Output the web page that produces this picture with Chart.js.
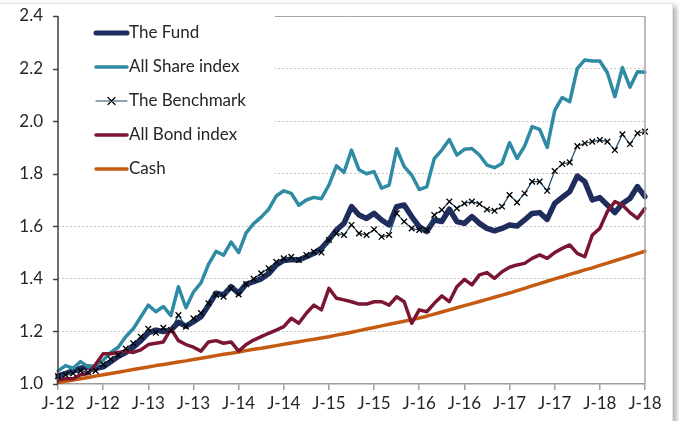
<!DOCTYPE html>
<html>
<head>
<meta charset="utf-8">
<script src="https://cdn.jsdelivr.net/npm/chart.js@4.4.1/dist/chart.umd.min.js"></script>
<style>
    html, body { margin: 0; padding: 0; background: #fff; overflow: hidden; }
    #frame {
        position: absolute; left: -10px; top: 3px; width: 681px; height: 440px;
        border: 1px solid #e6e6e6; box-shadow: 3px 3px 6px rgba(0,0,0,0.35); background: #fff;
    }
    #wrap { position: absolute; left: 0; top: 0; width: 679px; height: 421px; }
</style>
</head>
<body>
<div id="frame"></div>
<div id="wrap"><canvas id="perfChart" width="679" height="421"></canvas></div>
<script>
// Monthly, Jan 2012 - Jul 2018 (Excel "mmmmm-yy" style labels)
const months = [
    'J-12','F-12','M-12','A-12','M-12','J-12','J-12','A-12','S-12','O-12','N-12','D-12',
    'J-13','F-13','M-13','A-13','M-13','J-13','J-13','A-13','S-13','O-13','N-13','D-13',
    'J-14','F-14','M-14','A-14','M-14','J-14','J-14','A-14','S-14','O-14','N-14','D-14',
    'J-15','F-15','M-15','A-15','M-15','J-15','J-15','A-15','S-15','O-15','N-15','D-15',
    'J-16','F-16','M-16','A-16','M-16','J-16','J-16','A-16','S-16','O-16','N-16','D-16',
    'J-17','F-17','M-17','A-17','M-17','J-17','J-17','A-17','S-17','O-17','N-17','D-17',
    'J-18','F-18','M-18','A-18','M-18','J-18','J-18'
];

const yTicks = [1.0, 1.2, 1.4, 1.6, 1.8, 2.0, 2.2, 2.4];

const fund = [
    1.03, 1.04, 1.05, 1.06, 1.065, 1.06, 1.065, 1.085, 1.105, 1.12, 1.14, 1.165,
    1.195, 1.205, 1.20, 1.205, 1.235, 1.22, 1.237, 1.256, 1.30, 1.345, 1.339, 1.37,
    1.345, 1.38, 1.389, 1.40, 1.42, 1.453, 1.47, 1.474, 1.472, 1.484, 1.497, 1.516,
    1.548, 1.586, 1.611, 1.675, 1.643, 1.63, 1.649, 1.624, 1.605, 1.675, 1.681, 1.637,
    1.599, 1.58, 1.624, 1.618, 1.665, 1.618, 1.611, 1.637, 1.611, 1.592, 1.583, 1.592,
    1.605, 1.601, 1.624, 1.649, 1.652, 1.626, 1.687, 1.71, 1.732, 1.791, 1.77, 1.70,
    1.709, 1.681, 1.652, 1.687, 1.706, 1.751, 1.713
];

const allShare = [
    1.05, 1.07, 1.06, 1.085, 1.065, 1.07, 1.09, 1.12, 1.14, 1.18, 1.21, 1.255,
    1.30, 1.275, 1.295, 1.26, 1.37, 1.29, 1.35, 1.385, 1.455, 1.505, 1.49, 1.54,
    1.50, 1.575, 1.61, 1.635, 1.665, 1.715, 1.735, 1.725, 1.68, 1.70, 1.71, 1.705,
    1.757, 1.83, 1.805, 1.89, 1.815, 1.80, 1.808, 1.745, 1.757, 1.895, 1.827, 1.795,
    1.74, 1.75, 1.858, 1.89, 1.93, 1.871, 1.893, 1.896, 1.871, 1.833, 1.823, 1.839,
    1.918, 1.858, 1.905, 1.979, 1.969, 1.90, 2.04, 2.09, 2.074, 2.20, 2.233, 2.229,
    2.229, 2.184, 2.093, 2.204, 2.129, 2.188, 2.186
];

const benchmark = [
    1.03, 1.035, 1.04, 1.05, 1.045, 1.05, 1.075, 1.095, 1.11, 1.135, 1.155, 1.18,
    1.21, 1.195, 1.214, 1.205, 1.262, 1.218, 1.25, 1.27, 1.307, 1.339, 1.332, 1.364,
    1.341, 1.38, 1.40, 1.421, 1.44, 1.465, 1.478, 1.484, 1.472, 1.491, 1.503, 1.50,
    1.548, 1.573, 1.567, 1.605, 1.573, 1.567, 1.588, 1.56, 1.567, 1.649, 1.618, 1.592,
    1.586, 1.586, 1.643, 1.662, 1.694, 1.668, 1.687, 1.694, 1.685, 1.664, 1.659, 1.675,
    1.719, 1.691, 1.725, 1.77, 1.77, 1.735, 1.81, 1.837, 1.843, 1.905, 1.916, 1.922,
    1.928, 1.922, 1.89, 1.95, 1.913, 1.954, 1.96
];

const allBond = [
    1.015, 1.02, 1.02, 1.035, 1.04, 1.075, 1.115, 1.115, 1.12, 1.125, 1.12, 1.13,
    1.15, 1.155, 1.16, 1.21, 1.165, 1.15, 1.14, 1.125, 1.16, 1.165, 1.155, 1.16,
    1.125, 1.15, 1.167, 1.18, 1.193, 1.205, 1.218, 1.25, 1.231, 1.269, 1.30, 1.282,
    1.364, 1.326, 1.32, 1.313, 1.304, 1.304, 1.313, 1.313, 1.30, 1.332, 1.313, 1.231,
    1.282, 1.275, 1.307, 1.335, 1.313, 1.37, 1.398, 1.377, 1.415, 1.424, 1.402, 1.427,
    1.444, 1.453, 1.459, 1.478, 1.491, 1.478, 1.50, 1.516, 1.529, 1.497, 1.484, 1.567,
    1.592, 1.656, 1.694, 1.681, 1.652, 1.63, 1.668
];

const cash = [
    1.005, 1.010, 1.015, 1.020, 1.025, 1.030, 1.035, 1.040, 1.045, 1.050, 1.055, 1.060,
    1.065, 1.070, 1.074, 1.079, 1.084, 1.088, 1.093, 1.098, 1.103, 1.108, 1.113, 1.117,
    1.122, 1.127, 1.132, 1.136, 1.141, 1.146, 1.151, 1.156, 1.161, 1.166, 1.170, 1.175,
    1.180, 1.186, 1.191, 1.197, 1.203, 1.209, 1.215, 1.221, 1.227, 1.233, 1.239, 1.245,
    1.251, 1.258, 1.266, 1.274, 1.282, 1.290, 1.298, 1.306, 1.314, 1.322, 1.330, 1.338,
    1.346, 1.355, 1.364, 1.373, 1.382, 1.391, 1.400, 1.408, 1.417, 1.425, 1.434, 1.442,
    1.451, 1.460, 1.469, 1.478, 1.487, 1.496, 1.505
];

const COLORS = {
    fund: '#1f2d5c',
    share: '#2e8ba3',
    bench: '#1d4460',
    bond: '#7a1532',
    cash: '#c55a11',
    text: '#262626'
};

Chart.defaults.font.family = 'Lato, "Open Sans", sans-serif';
Chart.defaults.color = COLORS.text;

// Legend box (top-left inside the plot) plus axis lines drawn by hand
const legendItems = [
    { label: 'The Fund', color: COLORS.fund, width: 5 },
    { label: 'All Share index', color: COLORS.share, width: 3.5 },
    { label: 'The Benchmark', color: COLORS.bench, width: 1.2, marker: true },
    { label: 'All Bond index', color: COLORS.bond, width: 3.5 },
    { label: 'Cash', color: COLORS.cash, width: 3.5 }
];

const framePlugin = {
    id: 'frame',
    beforeDatasetsDraw(chart) {
        const { ctx, chartArea: ca } = chart;
        ctx.save();
        // top border line
        ctx.strokeStyle = '#a6a6a6';
        ctx.lineWidth = 1;
        ctx.beginPath();
        ctx.moveTo(ca.left, ca.top + 0.5);
        ctx.lineTo(ca.right, ca.top + 0.5);
        ctx.stroke();
        // legend background
        ctx.fillStyle = '#fff';
        ctx.fillRect(ca.left + 1, ca.top - 2, 216, 174);
        // legend entries
        ctx.font = '17px Lato, sans-serif';
        ctx.textBaseline = 'middle';
        ctx.lineCap = 'round';
        legendItems.forEach((item, i) => {
            const y = 33 + i * 34;
            ctx.strokeStyle = item.color;
            ctx.lineWidth = item.width;
            ctx.beginPath();
            ctx.moveTo(96, y);
            ctx.lineTo(127, y);
            ctx.stroke();
            if (item.marker) {
                ctx.strokeStyle = '#000';
                ctx.lineWidth = 1.2;
                ctx.beginPath();
                ctx.moveTo(108, y - 3.5); ctx.lineTo(115, y + 3.5);
                ctx.moveTo(115, y - 3.5); ctx.lineTo(108, y + 3.5);
                ctx.stroke();
            }
            ctx.fillStyle = COLORS.text;
            ctx.fillText(item.label, 129, y);
        });
        ctx.restore();
    },
    afterDraw(chart) {
        const { ctx, chartArea: ca, scales } = chart;
        ctx.save();
        // right border
        ctx.strokeStyle = '#a6a6a6';
        ctx.lineWidth = 1.5;
        ctx.beginPath();
        ctx.moveTo(ca.right, ca.top);
        ctx.lineTo(ca.right, ca.bottom);
        ctx.stroke();
        // left axis with tick marks
        ctx.strokeStyle = '#404040';
        ctx.lineWidth = 1.5;
        ctx.beginPath();
        ctx.moveTo(ca.left, ca.top);
        ctx.lineTo(ca.left, ca.bottom);
        yTicks.forEach(v => {
            const py = Math.round(scales.y.getPixelForValue(v)) + 0.5;
            ctx.moveTo(ca.left - 5, py);
            ctx.lineTo(ca.left, py);
        });
        ctx.stroke();
        ctx.restore();
    }
};

new Chart(document.getElementById('perfChart'), {
    type: 'line',
    data: {
        labels: months,
        datasets: [{
            label: 'The Benchmark',
            data: benchmark,
            borderColor: COLORS.bench,
            borderWidth: 1.2,
            pointStyle: 'crossRot',
            pointRadius: 4,
            pointBorderColor: '#000',
            pointBorderWidth: 1.3,
            order: 0
        }, {
            label: 'All Bond index',
            data: allBond,
            borderColor: COLORS.bond,
            borderWidth: 3.5,
            pointRadius: 0,
            order: 1
        }, {
            label: 'All Share index',
            data: allShare,
            borderColor: COLORS.share,
            borderWidth: 3.5,
            pointRadius: 0,
            order: 2
        }, {
            label: 'The Fund',
            data: fund,
            borderColor: COLORS.fund,
            borderWidth: 5.5,
            pointRadius: 0,
            order: 3
        }, {
            label: 'Cash',
            data: cash,
            borderColor: COLORS.cash,
            borderWidth: 3.5,
            pointRadius: 0,
            order: 4
        }]
    },
    options: {
        responsive: false,
        animation: false,
        layout: { padding: { top: 16, right: 34, bottom: 0, left: 0 } },
        elements: {
            line: { tension: 0, borderJoinStyle: 'round', borderCapStyle: 'round', fill: false }
        },
        plugins: {
            legend: { display: false },
            tooltip: { enabled: false }
        },
        scales: {
            x: {
                offset: false,
                afterFit: scale => { scale.height = 37; },
                grid: {
                    drawOnChartArea: false,
                    drawTicks: true,
                    tickLength: 6,
                    color: '#9e9e9e',
                    lineWidth: 1.5
                },
                border: { display: true, color: '#9e9e9e', width: 1.5 },
                ticks: {
                    autoSkip: false,
                    maxRotation: 0,
                    padding: 3,
                    font: { size: 17 },
                    color: COLORS.text,
                    callback: function (value, index) {
                        return index % 6 === 0 ? this.getLabelForValue(value) : null;
                    }
                }
            },
            y: {
                min: 1.0,
                max: 2.4,
                afterFit: scale => { scale.width = 58; },
                afterBuildTicks: scale => { scale.ticks = yTicks.map(v => ({ value: v })); },
                grid: {
                    drawTicks: true,
                    tickLength: 15,
                    tickColor: 'rgba(0,0,0,0)',
                    color: ctx => (ctx.tick && (ctx.tick.value <= 1.0 || ctx.tick.value >= 2.4)) ? 'rgba(0,0,0,0)' : '#c4c4c4',
                    lineWidth: 1
                },
                border: { display: false, dash: [2, 2] },
                ticks: {
                    padding: 0,
                    font: { size: 17 },
                    color: COLORS.text,
                    callback: value => value.toFixed(1)
                }
            }
        }
    },
    plugins: [framePlugin]
});
</script>
</body>
</html>
